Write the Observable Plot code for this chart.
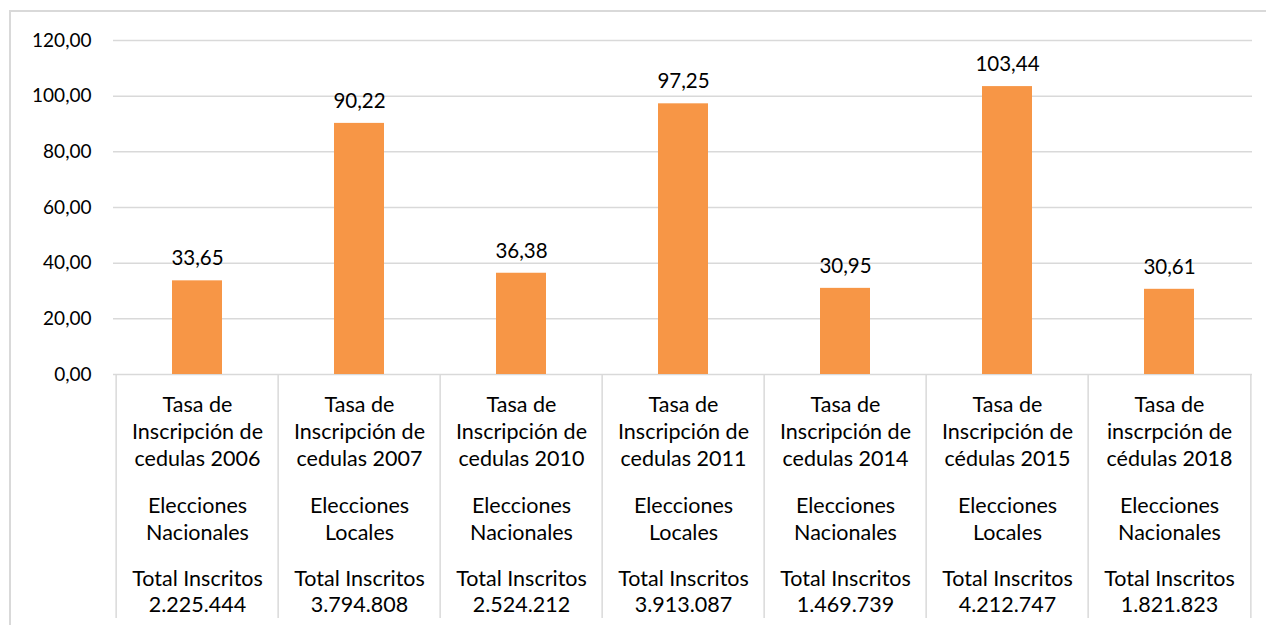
<!DOCTYPE html>
<html>
<head>
<meta charset="utf-8">
<script src="https://cdn.jsdelivr.net/npm/d3@7"></script>
<script src="https://cdn.jsdelivr.net/npm/@observablehq/plot@0.6"></script>
<style>
  html, body { margin: 0; padding: 0; background: #fff; }
  #wrap { position: relative; width: 1266px; height: 625px; overflow: hidden; }
  #frame { position: absolute; left: 9px; top: 10px; width: 1300px; height: 700px; border: 2px solid #d9d9d9; box-sizing: border-box; }
  #chart { position: absolute; left: 0; top: 0; }
</style>
</head>
<body>
<div id="wrap"><div id="frame"></div><div id="chart"></div></div>
<script>
const titles = [
  "Tasa de\nInscripción de\ncedulas 2006",
  "Tasa de\nInscripción de\ncedulas 2007",
  "Tasa de\nInscripción de\ncedulas 2010",
  "Tasa de\nInscripción de\ncedulas 2011",
  "Tasa de\nInscripción de\ncedulas 2014",
  "Tasa de\nInscripción de\ncédulas 2015",
  "Tasa de\ninscrpción de\ncédulas 2018"
];
const elecciones = [
  "Elecciones\nNacionales",
  "Elecciones\nLocales",
  "Elecciones\nNacionales",
  "Elecciones\nLocales",
  "Elecciones\nNacionales",
  "Elecciones\nLocales",
  "Elecciones\nNacionales"
];
const totales = [
  "Total Inscritos\n2.225.444",
  "Total Inscritos\n3.794.808",
  "Total Inscritos\n2.524.212",
  "Total Inscritos\n3.913.087",
  "Total Inscritos\n1.469.739",
  "Total Inscritos\n4.212.747",
  "Total Inscritos\n1.821.823"
];
const valores = [33.65, 90.22, 36.38, 97.25, 30.95, 103.44, 30.61];
const yTicks = [0, 20, 40, 60, 80, 100, 120];

const fmt = v => v.toFixed(2).replace(".", ",");
const data = titles.map((t, i) => ({key: t, elec: elecciones[i], total: totales[i], value: valores[i]}));

const W = 1266, H = 625, mL = 113, mR = 14, mT = 40, mB = 251;
const step = (W - mL - mR) / titles.length;
const font = "Lato, 'Open Sans', sans-serif";
const fs = 19, fsCat = 21.5, fsVal = 20.5;
const grid = "#d9d9d9";

const plot = Plot.plot({
  width: W,
  height: H,
  marginLeft: mL,
  marginRight: mR,
  marginTop: mT,
  marginBottom: mB,
  style: {background: "transparent", fontFamily: font, fontSize: fs + "px", color: "#000"},
  x: {domain: titles, padding: 0, axis: null},
  y: {domain: [0, 120], axis: null},
  marks: [
    Plot.ruleY(yTicks, {y: d => d, stroke: grid, strokeWidth: 1.5}),
    Plot.axisY(yTicks, {tickSize: 0, tickPadding: 22, tickFormat: fmt, fontSize: fs, fill: "#000", label: null}),
    Plot.barY(data, {x: "key", y: "value", fill: "#F79646", insetLeft: 56, insetRight: 56}),
    Plot.text(data, {x: "key", y: "value", text: d => fmt(d.value), dy: -22, fontSize: fsVal, fill: "#000"}),
    Plot.ruleX(data, {x: "key", dx: -step / 2, stroke: grid, strokeWidth: 1.5, insetTop: H - mT - mB, insetBottom: -244}),
    Plot.ruleX(data.slice(-1), {x: "key", dx: step / 2, stroke: grid, strokeWidth: 1.5, insetTop: H - mT - mB, insetBottom: -244}),
    Plot.text(data, {x: "key", y: 0, text: "key", lineAnchor: "top", lineHeight: 27 / fsCat, dy: 18, fontSize: fsCat, fill: "#000"}),
    Plot.text(data, {x: "key", y: 0, text: "elec", lineAnchor: "top", lineHeight: 27 / fsCat, dy: 119, fontSize: fsCat, fill: "#000"}),
    Plot.text(data, {x: "key", y: 0, text: "total", lineAnchor: "top", lineHeight: 26 / fsCat, dy: 193, fontSize: fsCat, fill: "#000"})
  ]
});
document.getElementById("chart").appendChild(plot);
</script>
</body>
</html>
